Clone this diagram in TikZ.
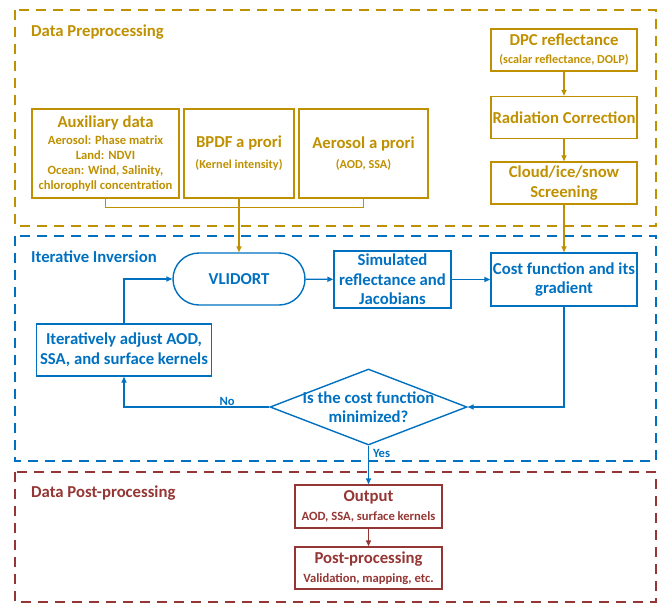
\documentclass[tikz,border=0pt]{standalone}
\usepackage{fontspec}
\setmainfont{Carlito}
\usetikzlibrary{arrows.meta, positioning, shapes, calc}
\definecolor{cGold}{HTML}{BF9000}
\definecolor{cBlue}{HTML}{0070C0}
\definecolor{cRed}{HTML}{943634}
\newcommand{\fBig}{\fontsize{16.7}{19.5}\selectfont}
\newcommand{\fSml}{\fontsize{12.6}{15}\selectfont}
\newcommand{\fTny}{\fontsize{12.2}{14}\selectfont}

\begin{document}
\begin{tikzpicture}[x=1pt,y=-1pt,>={Triangle[length=6pt,width=5pt]},
every node/.style={font=\bfseries,align=center,inner sep=1pt},
frame/.style={line width=1.8pt,dash pattern=on 10pt off 7pt},
gbox/.style={draw=cGold,text=cGold,line width=1.4pt},
bbox/.style={draw=cBlue,text=cBlue,line width=1.4pt},
rbox/.style={draw=cRed,text=cRed,line width=1.4pt},
gline/.style={draw=cGold,line width=1.4pt},
bline/.style={draw=cBlue,line width=1.4pt},
rline/.style={draw=cRed,line width=1.4pt}
]
\useasboundingbox (0,0) rectangle (659,603);

% frames
\draw[frame,cGold] (15,10) rectangle (656,226);
\draw[frame,cBlue] (15,236) rectangle (656,461);
\draw[frame,cRed] (15,472) rectangle (656,602);
\node[anchor=west,text=cGold,font=\bfseries\fBig] (tPre) at (30,32) {Data Preprocessing};
\node[anchor=west,text=cBlue,font=\bfseries\fBig] (tInv) at (30,257) {Iterative Inversion};
\node[anchor=west,text=cRed,font=\bfseries\fBig] (tPost) at (30,493) {Data Post-processing};

% preprocessing
\node[gbox,minimum width=147,minimum height=89,font=\bfseries\fSml] (nAux) at (105.5,153.5)
  {\fBig Auxiliary data\\[2pt]Aerosol: Phase matrix\\Land: NDVI\\Ocean: Wind, Salinity,\\chlorophyll concentration};
\node[gbox,minimum width=110,minimum height=89,font=\bfseries\fTny] (nBPDF) at (239,153.5)
  {\fBig BPDF a prori\\[7pt](Kernel intensity)};
\node[gbox,minimum width=129,minimum height=89,font=\bfseries\fTny] (nAer) at (363.5,153.5)
  {\fBig Aerosol a prori\\[6pt](AOD, SSA)};
\node[gbox,minimum width=146,minimum height=42,font=\bfseries\fTny] (nDPC) at (564,50)
  {\fBig DPC reflectance\\[4pt](scalar reflectance, DOLP)};
\node[gbox,minimum width=146,minimum height=42,font=\bfseries\fBig] (nRad) at (564,117.5) {Radiation Correction};
\node[gbox,minimum width=146,minimum height=42,font=\bfseries\fBig] (nCloud) at (564,183) {Cloud/ice/snow\\Screening};

% inversion
\node[bbox,rounded rectangle,minimum width=134,minimum height=52,font=\bfseries\fBig] (nVL) at (239,279) {VLIDORT};
\node[bbox,minimum width=117,minimum height=57,font=\bfseries\fBig] (nSim) at (392.5,279.5) {Simulated\\reflectance and\\Jacobians};
\node[bbox,minimum width=146,minimum height=53,font=\bfseries\fBig,inner sep=0pt] (nCost) at (564,279.5) {Cost function and its\\gradient};
\node[bbox,minimum width=175,minimum height=52,font=\bfseries\fBig] (nIter) at (124,350) {Iteratively adjust AOD,\\SSA, and surface kernels};
\node[bbox,diamond,minimum width=197,minimum height=76,inner sep=0pt] (nDec) at (368.5,407) {};
\node[text=cBlue,font=\bfseries\fBig] (tDec) at (nDec) {Is the cost function\\minimized?};

% post-processing
\node[rbox,minimum width=147,minimum height=43,font=\bfseries\fSml] (nOut) at (368.5,506.5)
  {\fBig Output\\[4pt]AOD, SSA, surface kernels};
\node[rbox,minimum width=147,minimum height=42,font=\bfseries\fSml] (nPost) at (368.5,568)
  {\fBig Post-processing\\[4pt]Validation, mapping, etc.};

% connectors
\draw[gline,cGold] (nAux.south) |- ($(nBPDF.south)+(0,9)$) -| (nAer.south);
\draw[gline,->,cGold] (nBPDF.south) -- (nVL.north);
\draw[gline,->,cGold] (nDPC) -- (nRad);
\draw[gline,->,cGold] (nRad) -- (nCloud);
\draw[gline,->,cGold] (nCloud) -- (nCost);
\draw[bline,->,cBlue] (nVL) -- (nSim);
\draw[bline,->,cBlue] (nSim) -- (nCost);
\draw[bline,->,cBlue] (nCost.south) |- (nDec.east);
\draw[bline,->,cBlue] (nDec.west) -| node[pos=0.145,above,text=cBlue,font=\bfseries\fSml]{No} (nIter.south);
\draw[bline,->,cBlue] (nIter.north) |- (nVL.west);
\draw[bline,->,cBlue] (nDec.south) -- node[pos=0.2,right,xshift=3pt,text=cBlue,font=\bfseries\fSml]{Yes} (nOut.north);
\draw[rline,->,cRed] (nOut) -- (nPost);
\end{tikzpicture}
\end{document}
